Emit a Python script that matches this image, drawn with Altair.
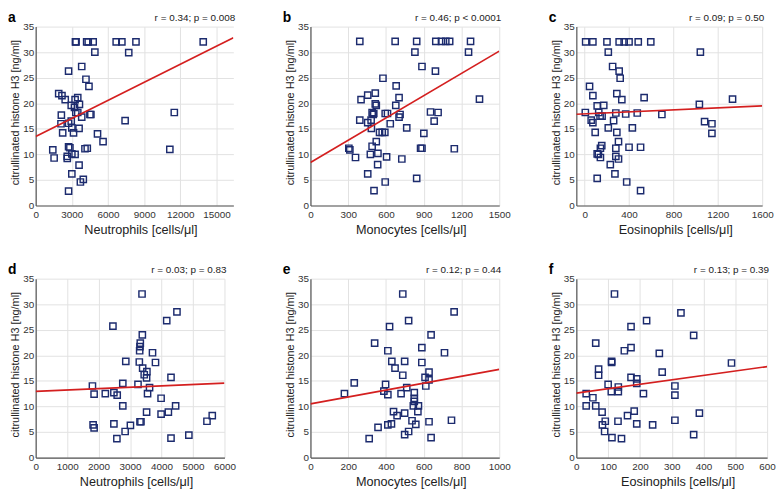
import altair as alt
import pandas as pd

# ---------------- data ----------------
a_x = [3300, 3350, 4230, 4360, 4770, 6680, 7150, 8320, 13900, 4910, 7720, 3820, 2730, 4170,
       4420, 1910, 2180, 3490, 2450, 3270, 3630, 2950, 3220, 3330, 3490, 4500, 4580, 2130,
       3820, 2950, 7420, 11500, 2100, 2730, 3000, 3600, 2240, 3140, 5130, 5590, 2730, 2840,
       4090, 4280, 11130, 1420, 1530, 2620, 2620, 3000, 3270, 3600, 3000, 3950, 3710, 2730]
a_y = [32, 32, 32, 32, 32, 32, 32, 32, 32, 30.0, 29.9, 27.2, 26.3, 24.7,
       23.3, 21.9, 21.5, 21.1, 20.7, 20.7, 19.8, 19.6, 19.2, 18.2, 18.2, 17.8, 17.8, 17.7,
       17.3, 16.5, 16.6, 18.2, 16.0, 16.1, 15.2, 15.1, 14.2, 14.2, 14.0, 12.5, 11.5, 11.3,
       11.1, 11.2, 11.0, 10.9, 9.3, 9.2, 9.6, 10.1, 10.0, 7.9, 6.2, 5.1, 4.6, 2.8]

b_x = [392, 673, 844, 996, 1041, 1075, 1106, 1272, 830, 1256, 886, 993, 576, 681, 455, 515,
       704, 402, 1343, 515, 523, 678, 490, 503, 498, 594, 612, 712, 704, 954, 1014, 392, 455,
       482, 484, 634, 983, 765, 549, 570, 591, 901, 523, 490, 305, 313, 875, 886, 1143, 358,
       476, 536, 605, 726, 534, 455, 844, 594, 505]
b_y = [32.1, 32.1, 32.1, 32.1, 32.1, 32.1, 32.1, 32.1, 30.0, 30.0, 27.2, 26.3, 24.9, 23.4, 21.6, 22.0,
       21.1, 20.7, 20.8, 19.9, 19.6, 19.6, 18.2, 18.0, 17.8, 18.0, 18.0, 17.8, 17.3, 18.3, 18.2, 16.7, 16.2,
       16.7, 15.1, 16.0, 16.5, 15.2, 14.3, 14.3, 14.3, 14.1, 12.5, 11.6, 11.2, 10.9, 11.2, 11.2, 11.1, 9.4,
       10.0, 10.2, 9.5, 9.1, 8.0, 6.2, 5.3, 4.6, 2.9]

c_x = [9, 74, 201, 311, 356, 400, 483, 596, 213, 1043, 252, 311, 320, 44, 74, 290, 335, 536,
       113, 172, 1034, 1333, 6, 127, 139, 157, 281, 370, 474, 696, 59, 74, 261, 213, 430, 1081,
       1147, 1147, 95, 290, 305, 154, 142, 281, 400, 504, 113, 124, 142, 281, 305, 231, 273,
       113, 379, 504]
c_y = [32, 32, 32, 32, 32, 32, 32, 32, 30.0, 30.0, 27.2, 26.3, 24.9, 23.3, 21.5, 21.9, 20.7, 21.1,
       19.5, 19.6, 19.8, 20.8, 18.2, 18.2, 17.5, 17.5, 18.1, 17.9, 18.1, 17.8, 16.7, 16.2, 16.6, 15.2, 15.2, 16.4,
       16.0, 14.1, 14.3, 14.3, 12.5, 11.7, 11.2, 11.2, 11.4, 11.4, 10.1, 10.0, 9.4, 9.6, 9.1, 8.0, 6.2,
       5.3, 4.6, 2.9]

d_x = [3380, 4490, 4165, 2455, 3390, 3325, 3315, 3305, 3713, 2864, 3294, 3808, 3400, 3535, 3450,
       3525, 4301, 1804, 2769, 3252, 3619, 1857, 2213, 2486, 2591, 3556, 3986, 2769, 3525, 3986,
       4217, 4448, 1825, 1857, 2486, 3011, 3315, 3346, 2843, 2581, 4301, 4868, 5444, 5612]
d_y = [32.0, 28.5, 26.8, 25.7, 24.0, 22.4, 21.7, 20.9, 20.5, 18.8, 18.7, 18.6, 17.5, 16.8, 16.2,
       15.6, 15.7, 14.0, 14.5, 14.3, 13.7, 12.4, 12.5, 12.7, 12.2, 12.5, 11.6, 10.1, 8.9, 8.5,
       8.9, 10.1, 6.4, 5.8, 6.6, 6.3, 7.0, 7.0, 5.1, 3.7, 3.8, 4.4, 7.1, 8.2]

e_x = [489, 761, 520, 419, 639, 340, 590, 410, 710, 431, 499, 590, 448, 489, 628, 607, 628, 611,
       232, 180, 398, 389, 410, 510, 480, 550, 550, 550, 545, 572, 569, 440, 459, 499, 538, 558,
       628, 747, 358, 410, 429, 520, 499, 311, 639]
e_y = [32.0, 28.5, 26.8, 25.6, 24.0, 22.4, 21.5, 20.9, 20.5, 18.8, 18.8, 18.6, 17.5, 16.1, 16.7, 15.7, 15.2, 14.0,
       14.6, 12.5, 14.3, 13.0, 12.3, 13.7, 12.5, 12.7, 11.6, 11.0, 10.1, 10.1, 9.0, 9.0, 8.2, 8.7, 7.2, 6.5,
       7.0, 7.3, 5.9, 6.4, 6.6, 5.1, 4.5, 3.7, 3.9]

f_x = [120, 329, 221, 369, 172, 61, 172, 151, 261, 111, 111, 488, 70, 70, 270, 172, 190, 190, 100,
       132, 132, 110, 310, 310, 211, 31, 31, 52, 61, 81, 182, 387, 161, 91, 82, 131, 190, 240, 310,
       89, 112, 142, 369]
f_y = [32.0, 28.3, 26.8, 23.9, 25.6, 22.4, 21.5, 20.9, 20.4, 18.8, 18.6, 18.5, 17.3, 16.1, 16.7, 15.7, 15.4, 14.5, 14.3,
       13.8, 12.9, 12.9, 14.0, 12.2, 12.5, 12.5, 10.1, 11.7, 10.1, 8.9, 9.1, 8.7, 8.2, 7.1, 6.4, 7.1, 6.6, 6.4, 7.3,
       5.1, 3.9, 3.7, 4.5]

# regression line end points
a_line_x, a_line_y = [0, 16400], [13.5, 32.8]
b_line_x, b_line_y = [0, 1500], [8.4, 30.2]
c_line_x, c_line_y = [-75, 1600], [17.85, 19.5]
d_line_x, d_line_y = [0, 6000], [12.95, 14.55]
e_line_x, e_line_y = [0, 1000], [10.5, 17.25]
f_line_x, f_line_y = [0, 600], [12.6, 17.8]

letters = ["a", "b", "c", "d", "e", "f"]
annotations = ["r = 0.34; p = 0.008", "r = 0.46; p < 0.0001", "r = 0.09; p = 0.50",
               "r = 0.03; p = 0.83", "r = 0.12; p = 0.44", "r = 0.13; p = 0.39"]
x_titles = ["Neutrophils [cells/μl]", "Monocytes [cells/μl]", "Eosinophils [cells/μl]"] * 2
y_title = "citrullinated histone H3 [ng/ml]"
y_ticks = [0, 5, 10, 15, 20, 25, 30, 35]
x_domains = [[0, 16400], [0, 1500], [-75, 1600], [0, 6000], [0, 1000], [0, 600]]
x_ticks = [[0, 3000, 6000, 9000, 12000, 15000], [0, 300, 600, 900, 1200, 1500],
           [0, 400, 800, 1200, 1600], [0, 1000, 2000, 3000, 4000, 5000, 6000],
           [0, 200, 400, 600, 800, 1000], [0, 100, 200, 300, 400, 500, 600]]
widths = [200, 191, 188, 191, 191, 193]

NAVY = "#1c2b6e"
RED = "#d41f1f"
FONT = "Liberation Sans"
H = 181


def panel(i, xs, ys, lx, ly):
    w = widths[i]
    df = pd.DataFrame({"x": xs, "y": ys})
    ldf = pd.DataFrame({"x": lx, "y": ly})
    xscale = alt.Scale(domain=x_domains[i], nice=False, zero=False)
    yscale = alt.Scale(domain=[0, 35], nice=False)
    xaxis = alt.Axis(title=x_titles[i], values=x_ticks[i], tickCount=len(x_ticks[i]) + 2,
                     format="d", labelFontSize=10, titleX=w / 2 + 6,
                     titleFontSize=12.8, labelPadding=4, titlePadding=4, ticks=False,
                     titleFontWeight="normal", labelOverlap=False, labelFlush=False)
    yaxis = alt.Axis(title=y_title, values=y_ticks, tickCount=len(y_ticks) + 2,
                     labelFontSize=10, titleFontSize=11, titleY=H / 2 - 4,
                     labelPadding=2, titlePadding=2, ticks=False, titleFontWeight="normal",
                     labelOverlap=False, labelFlush=False)
    pts = alt.Chart(df).mark_point(shape="square", filled=False, size=40, strokeWidth=1.45,
                                   color=NAVY, opacity=1).encode(
        x=alt.X("x:Q", scale=xscale, axis=xaxis),
        y=alt.Y("y:Q", scale=yscale, axis=yaxis))
    line = alt.Chart(ldf).mark_line(color=RED, strokeWidth=1.7, clip=True).encode(
        x=alt.X("x:Q", scale=xscale, axis=xaxis), y=alt.Y("y:Q", scale=yscale, axis=yaxis))
    let = alt.Chart(pd.DataFrame({"t": [letters[i]]})).mark_text(
        align="left", baseline="alphabetic", fontSize=14, fontWeight="bold", font=FONT,
        color="#000").encode(text="t:N", x=alt.value(-28), y=alt.value(-5))
    ann = alt.Chart(pd.DataFrame({"t": [annotations[i]]})).mark_text(
        align="right", baseline="alphabetic", fontSize=10, font=FONT, color="#222").encode(
        text="t:N", x=alt.value(w + 2), y=alt.value(-6))
    return alt.layer(pts, line, let, ann).properties(width=w, height=H)


panels = [
    panel(0, a_x, a_y, a_line_x, a_line_y),
    panel(1, b_x, b_y, b_line_x, b_line_y),
    panel(2, c_x, c_y, c_line_x, c_line_y),
    panel(3, d_x, d_y, d_line_x, d_line_y),
    panel(4, e_x, e_y, e_line_x, e_line_y),
    panel(5, f_x, f_y, f_line_x, f_line_y),
]

chart = alt.concat(*panels, columns=3, spacing={"row": 74, "column": 78},
                   bounds="flush", align="each",
                   padding={"left": 0, "top": 0, "right": 0, "bottom": 0},
                   autosize=alt.AutoSizeParams(type="pad")).configure(
    font=FONT, background="white").configure_view(stroke=None).configure_axis(
    gridColor="#e2e2e2", gridWidth=1, domainColor="#555", domainWidth=1.2,
    labelColor="#333", titleColor="#222", labelFont=FONT, titleFont=FONT)

chart.save("out.html", embed_options={"renderer": "svg", "actions": False})
